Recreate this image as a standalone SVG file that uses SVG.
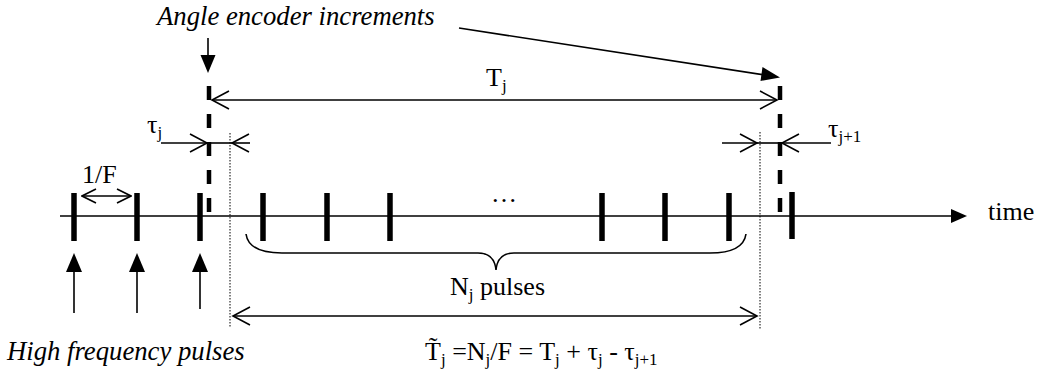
<svg xmlns="http://www.w3.org/2000/svg" width="1039" height="376" viewBox="0 0 1039 376" font-family="'Liberation Serif', 'Times New Roman', 'DejaVu Serif', serif">
<style>
text{font-family:"Liberation Serif","Times New Roman","DejaVu Serif",serif;font-size:26px;fill:#000}
.it{font-style:italic;font-size:26.7px}
.sub{font-size:17px}
.ln{stroke:#000;stroke-width:1.6;fill:none}
.tick{stroke:#000;stroke-width:5.5}
.dash{stroke:#000;stroke-width:4.5;stroke-dasharray:14 14}
.dot{stroke:#000;stroke-width:1;stroke-dasharray:1.5 1.5}
.fill{fill:#000;stroke:none}
</style>
<defs>
<marker id="open" viewBox="0 0 20 20" refX="18" refY="10" markerWidth="20" markerHeight="20" markerUnits="userSpaceOnUse" orient="auto-start-reverse">
<path d="M1,1 L18,10 L1,19" fill="none" stroke="#000" stroke-width="1.6"/>
</marker>
<marker id="openS" viewBox="0 0 16 16" refX="15" refY="8" markerWidth="16" markerHeight="16" markerUnits="userSpaceOnUse" orient="auto-start-reverse">
<path d="M1,1 L15,8 L1,15" fill="none" stroke="#000" stroke-width="1.6"/>
</marker>
</defs>

<g id="timeline">
<line class="ln" x1="60" y1="216" x2="953" y2="216"/>
<polygon class="fill" points="951,209 967,216 951,223"/>
<text x="988" y="220">time</text>
</g>

<g id="pulses">
<line class="tick" x1="74" y1="193" x2="74" y2="241"/>
<line class="tick" x1="137" y1="193" x2="137" y2="241"/>
<line class="tick" x1="200" y1="193" x2="200" y2="241"/>
<line class="tick" x1="263" y1="193" x2="263" y2="241"/>
<line class="tick" x1="327" y1="193" x2="327" y2="241"/>
<line class="tick" x1="390" y1="193" x2="390" y2="241"/>
<line class="tick" x1="602" y1="193" x2="602" y2="241"/>
<line class="tick" x1="665" y1="193" x2="665" y2="241"/>
<line class="tick" x1="729" y1="193" x2="729" y2="241"/>
<line class="tick" x1="792" y1="192" x2="792" y2="239"/>
<text x="491" y="202">…</text>
</g>

<g id="encoder-increments">
<line class="dash" x1="209" y1="86" x2="209" y2="213"/>
<line class="dash" x1="780" y1="86" x2="780" y2="213"/>
<text class="it" x="157" y="25">Angle encoder increments</text>
</g>

<g id="hf-pulses">
<text class="it" x="7" y="360">High frequency pulses</text>
</g>

<g id="connectors">
<line class="ln" x1="208" y1="38" x2="208" y2="57"/>
<polygon class="fill" points="200.5,55 215.5,55 208,73"/>
<line class="ln" x1="459" y1="28" x2="765" y2="75"/>
<polygon class="fill" points="762.5,67 780,77.5 760.5,81"/>
<line class="ln" x1="212" y1="100" x2="777" y2="100" marker-start="url(#open)" marker-end="url(#open)"/>
<line class="ln" x1="161" y1="143" x2="207" y2="143" marker-end="url(#open)"/>
<line class="ln" x1="250" y1="143" x2="232" y2="143" marker-end="url(#open)"/>
<line class="ln" x1="207" y1="143" x2="232" y2="143"/>
<line class="ln" x1="722" y1="143" x2="757" y2="143" marker-end="url(#open)"/>
<line class="ln" x1="831" y1="143" x2="782" y2="143" marker-end="url(#open)"/>
<line class="ln" x1="757" y1="143" x2="782" y2="143"/>
<line class="dot" x1="230" y1="133" x2="230" y2="328"/>
<line class="dot" x1="760" y1="132" x2="760" y2="329"/>
<line class="ln" x1="82" y1="196" x2="131" y2="196" marker-start="url(#openS)" marker-end="url(#openS)"/>
<line class="ln" x1="74" y1="270" x2="74" y2="313"/>
<polygon class="fill" points="66,272 82,272 74,253"/>
<line class="ln" x1="137" y1="270" x2="137" y2="313"/>
<polygon class="fill" points="129,272 145,272 137,253"/>
<line class="ln" x1="200" y1="270" x2="200" y2="309"/>
<polygon class="fill" points="192,272 208,272 200,253"/>
<path class="ln" d="M246,234 C248,248 262,253 282,253 L478,253 C489,253 495,259 496,270 C497,259 503,253 514,253 L710,253 C730,253 744,248 746,234"/>
<line class="ln" x1="233" y1="316" x2="757" y2="316" marker-start="url(#open)" marker-end="url(#open)"/>
</g>

<g id="labels">
<text x="486" y="86">T<tspan class="sub" dy="5">j</tspan></text>
<text x="147" y="133">τ<tspan class="sub" dy="5">j</tspan></text>
<text x="828" y="137">τ<tspan class="sub" dy="5">j+1</tspan></text>
<text x="82" y="183">1/F</text>
<text x="450" y="295">N<tspan class="sub" dy="5">j</tspan><tspan dy="-5"> pulses</tspan></text>
<text x="425" y="360">T̃<tspan class="sub" dy="5">j</tspan><tspan dy="-5"> =N</tspan><tspan class="sub" dy="5">j</tspan><tspan dy="-5">/F = T</tspan><tspan class="sub" dy="5">j</tspan><tspan dy="-5"> + τ</tspan><tspan class="sub" dy="5">j</tspan><tspan dy="-5"> - τ</tspan><tspan class="sub" dy="5">j+1</tspan></text>
</g>
</svg>
